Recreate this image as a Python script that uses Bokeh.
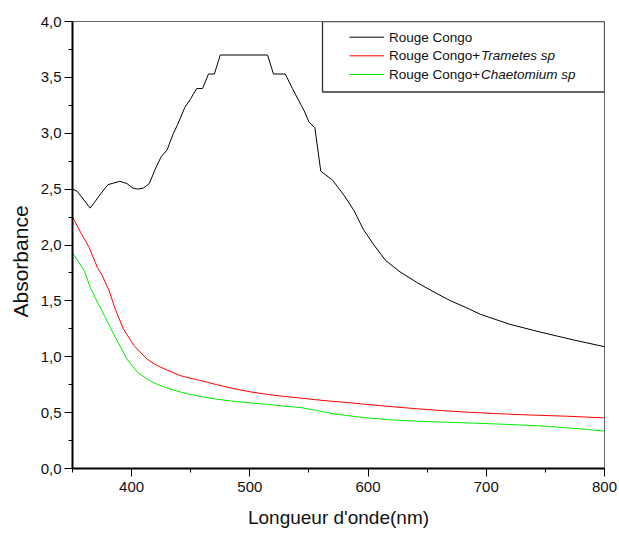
from bokeh.plotting import figure
from bokeh.models import (Range1d, FixedTicker, CustomJSTickFormatter, BoxAnnotation, Label, Title)
from bokeh.embed import file_html
from bokeh.resources import INLINE

# ---------------- data ----------------
wl_black = [350, 354, 365, 374, 380, 390, 396, 401, 405, 410, 415, 420, 425, 430, 435, 439,
            445, 450, 455, 460, 465, 470, 475, 515, 520, 530, 536, 543, 546, 550, 555, 560,
            570, 580, 588, 596, 605, 615, 627, 642, 653, 660, 670, 683, 695, 720, 746, 774, 800]
abs_black = [2.50, 2.48, 2.33, 2.46, 2.54, 2.57, 2.55, 2.51, 2.50, 2.51, 2.55, 2.68, 2.79, 2.85,
             2.99, 3.08, 3.23, 3.31, 3.40, 3.40, 3.53, 3.53, 3.70, 3.70, 3.53, 3.53, 3.40, 3.26,
             3.20, 3.10, 3.05, 2.66, 2.58, 2.44, 2.31, 2.14, 2.00, 1.86, 1.76, 1.66, 1.595, 1.555,
             1.50, 1.44, 1.38, 1.29, 1.22, 1.15, 1.09]

wl_red = [350, 357, 364, 371, 375, 381, 386, 393, 402, 413, 420, 429, 441, 447, 455, 463, 472,
          486, 501, 515, 529, 543, 557, 571, 585, 599, 620, 642, 663, 684, 705, 726, 747, 768,
          785, 800]
abs_red = [2.25, 2.11, 1.98, 1.80, 1.73, 1.59, 1.43, 1.25, 1.10, 0.98, 0.93, 0.885, 0.832,
           0.815, 0.795, 0.775, 0.750, 0.715, 0.685, 0.663, 0.645, 0.630, 0.614, 0.600, 0.588,
           0.573, 0.553, 0.534, 0.518, 0.504, 0.493, 0.483, 0.475, 0.468, 0.460, 0.453]

wl_green = [350, 360, 365, 371, 375, 382, 389, 396, 405, 416, 425, 432, 441, 448, 458, 472, 487,
            501, 515, 529, 543, 557, 571, 585, 599, 620, 642, 663, 684, 705, 726, 747, 768, 785,
            800]
abs_green = [1.93, 1.77, 1.62, 1.49, 1.41, 1.26, 1.12, 0.98, 0.86, 0.78, 0.74, 0.713, 0.685,
             0.666, 0.645, 0.620, 0.601, 0.586, 0.574, 0.558, 0.545, 0.519, 0.489, 0.470, 0.453,
             0.435, 0.423, 0.415, 0.408, 0.400, 0.391, 0.380, 0.364, 0.350, 0.334]

x_major = [400, 500, 600, 700, 800]
x_minor = [350, 450, 550, 650, 750]
y_major = [0.0, 0.5, 1.0, 1.5, 2.0, 2.5, 3.0, 3.5, 4.0]
y_minor = [0.25, 0.75, 1.25, 1.75, 2.25, 2.75, 3.25, 3.75]

series_names = ["Rouge Congo", "Rouge Congo+", "Rouge Congo+"]
series_italic = ["", "Trametes sp", "Chaetomium sp"]
series_colors = ["black", "#ff0000", "#00ee00"]

x_title = "Longueur d'onde(nm)"
y_title = "Absorbance"

# ---------------- layout ----------------
W, H = 619, 535
ML, MR, MT, MB = 72, 15, 21, 67
X0, X1, Y0, Y1 = 350, 800, 0, 4
FONT = "Liberation Sans"

p = figure(width=W, height=H, output_backend="svg", toolbar_location=None,
           x_range=Range1d(X0, X1), y_range=Range1d(Y0, Y1),
           min_border_left=ML, min_border_right=MR, min_border_top=MT, min_border_bottom=MB)
p.grid.visible = False
p.outline_line_color = "#666666"
p.outline_line_width = 1
p.background_fill_color = "white"
p.border_fill_color = "white"

for xs, ys, c in [(wl_black, abs_black, series_colors[0]),
                  (wl_red, abs_red, series_colors[1]),
                  (wl_green, abs_green, series_colors[2])]:
    p.line(xs, ys, line_color=c, line_width=1)

xa = p.xaxis[0]
ya = p.yaxis[0]
xa.ticker = FixedTicker(ticks=x_major, minor_ticks=x_minor)
ya.ticker = FixedTicker(ticks=y_major, minor_ticks=y_minor)
ya.formatter = CustomJSTickFormatter(code="return tick.toFixed(1).replace('.', ',');")
for ax in (xa, ya):
    ax.axis_line_width = 2
    ax.axis_line_color = "black"
    ax.major_tick_in = 0
    ax.major_tick_out = 8
    ax.minor_tick_in = 0
    ax.minor_tick_out = 4
    ax.major_tick_line_color = "black"
    ax.minor_tick_line_color = "black"
    ax.major_label_text_font = FONT
    ax.major_label_text_font_size = "15px"
    ax.major_label_text_color = "#111111"
    ax.axis_label_text_font = FONT
    ax.axis_label_text_font_style = "normal"
    ax.axis_label_text_color = "#111111"
xa.axis_label = x_title
xa.axis_label_text_font_size = "19px"
xa.major_label_standoff = 5
ya.major_label_standoff = 3
xa.axis_label_standoff = 12

# y-axis title as a left-side Title so it can sit slightly below the frame centre
p.add_layout(Title(text=y_title, align="left", offset=151, text_font=FONT,
                   text_font_size="21px", text_font_style="normal", text_color="#111111",
                   standoff=11), "left")

# ---------------- pixel layout -> data helpers (legend) ----------------
fw = W - ML - MR
fh = H - MT - MB
def dx(px):
    return X0 + (px - ML) * (X1 - X0) / fw
def dy(py):
    return Y1 - (py - MT) * (Y1 - Y0) / fh

box = BoxAnnotation(left=dx(322), right=dx(604), top=dy(21), bottom=dy(91.5),
                    fill_color="white", fill_alpha=1.0, line_color="#333333", line_width=1.3,
                    line_alpha=1.0)
p.add_layout(box)

rows = [36.7, 55.3, 74.0]
seg = p.segment(x0=[dx(349)] * 3, x1=[dx(383.5)] * 3,
                y0=[dy(r) for r in rows], y1=[dy(r) for r in rows],
                line_color=series_colors, line_width=1)
seg.level = "overlay"

for r, name, ital in zip(rows, series_names, series_italic):
    p.add_layout(Label(x=dx(388.5), y=dy(r), text=name, text_font=FONT,
                       text_font_size="13.5px", text_baseline="middle", text_align="left",
                       text_color="#111111"))
    if ital:
        p.add_layout(Label(x=dx(480.5), y=dy(r), text=ital, text_font=FONT,
                           text_font_size="13.5px", text_font_style="italic",
                           text_baseline="middle", text_align="left", text_color="#111111"))

open("out.html", "w").write(file_html(p, INLINE))
